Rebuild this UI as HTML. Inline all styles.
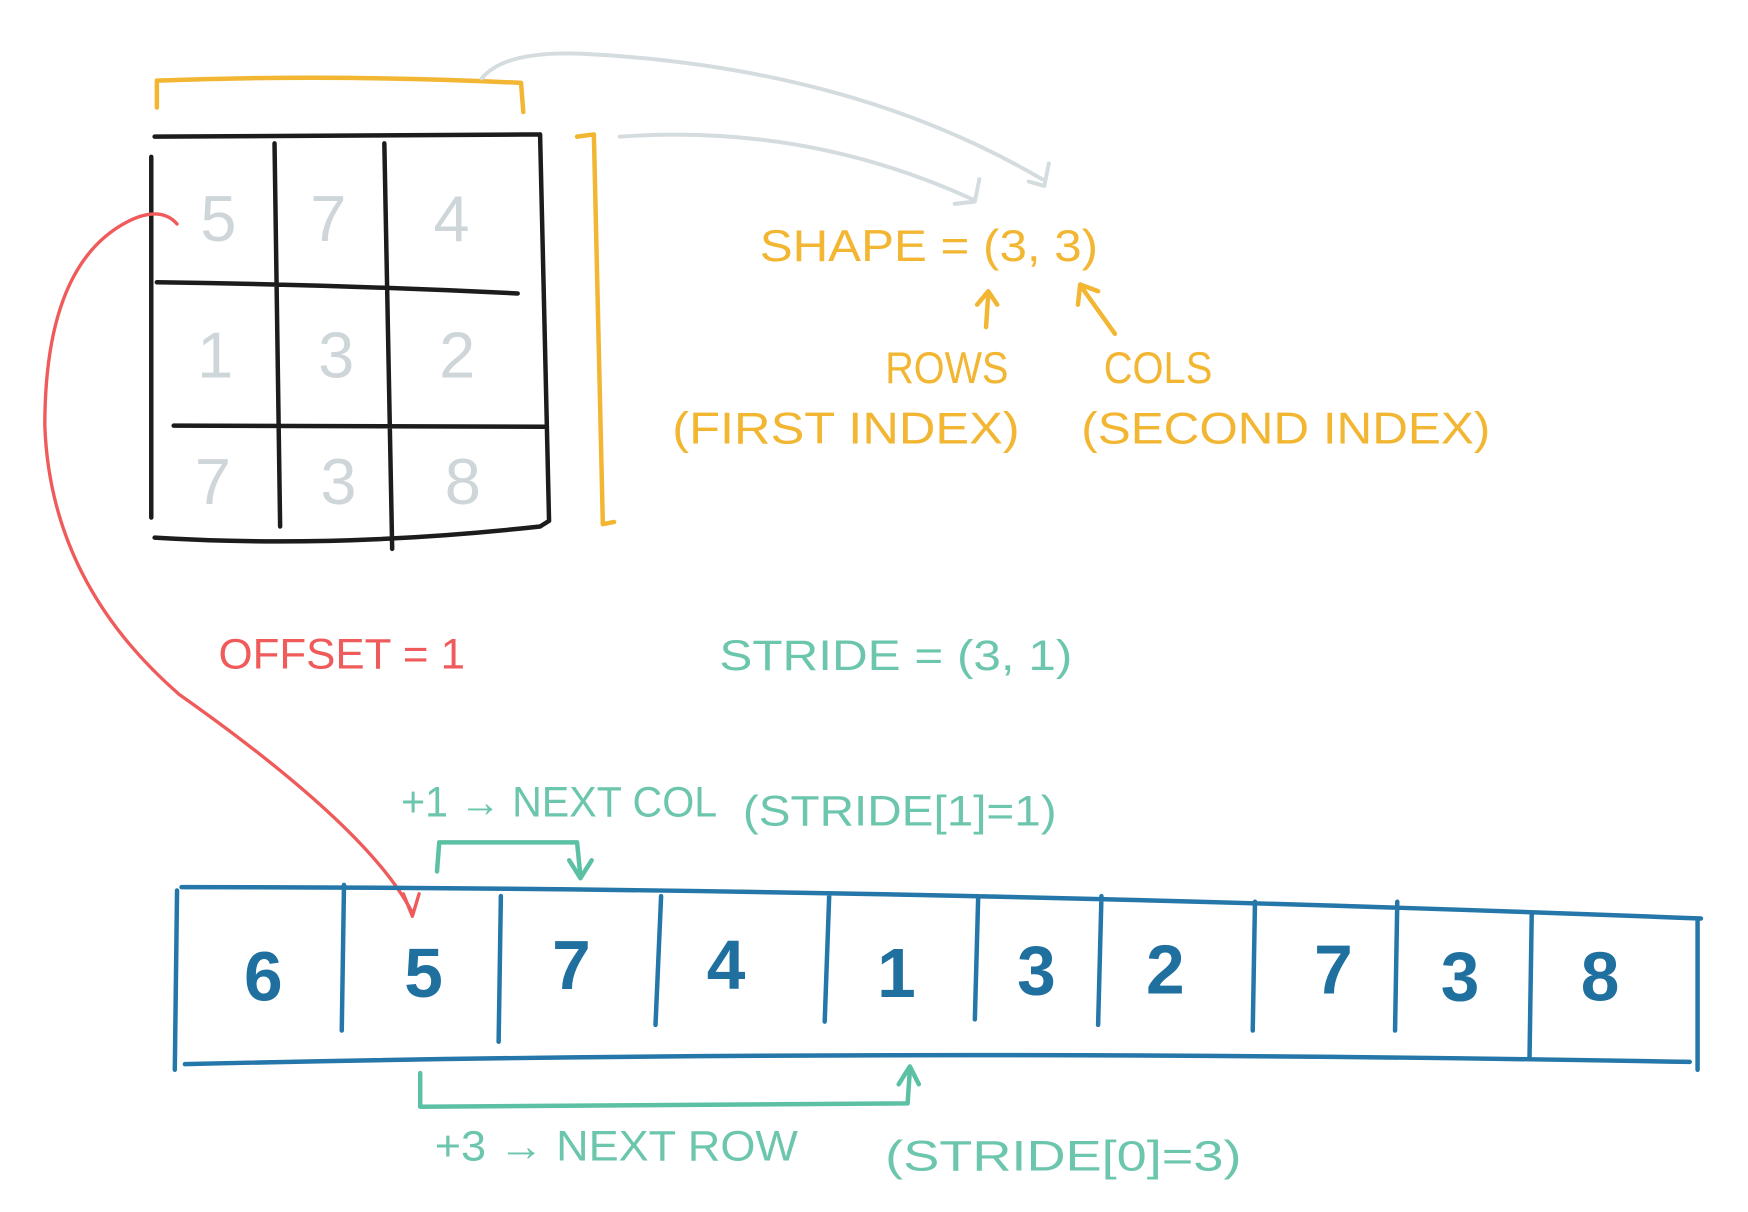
<!DOCTYPE html>
<html><head><meta charset="utf-8"><style>
html,body{margin:0;padding:0;background:#fff;}
svg{display:block}
text{font-family:"Liberation Sans",sans-serif;}
</style></head><body>
<svg width="1748" height="1212" viewBox="0 0 1560 1082" preserveAspectRatio="none" xmlns="http://www.w3.org/2000/svg">
<g fill="none" stroke-linecap="round" stroke-linejoin="round">
<!-- orange top bracket -->
<path d="M140 96 L140 72 Q300 66 465 74 L467 100" stroke="#f2b632" stroke-width="4"/>
<!-- grey arrows -->
<path d="M430 70 Q450 45 520 48 Q760 60 930 160" stroke="#d5dcdf" stroke-width="3.5"/>
<path d="M918 162 L932 166 L936 146" stroke="#d5dcdf" stroke-width="3.5"/>
<path d="M553 122 Q720 110 868 178" stroke="#d5dcdf" stroke-width="3.5"/>
<path d="M852 182 L870 180 L874 160" stroke="#d5dcdf" stroke-width="3.5"/>
<!-- matrix -->
<path d="M138 122 L482 120 M135 140 L135 462 M482 120 L490 465 M140 252 Q300 254 462 262 M155 380 L488 381 M245 128 L250 470 M343 128 L350 490 M138 480 Q300 490 482 470 L490 465" stroke="#1c1c1c" stroke-width="4"/>
<!-- orange right bracket -->
<path d="M515 122 L530 120 L538 468 L548 466" stroke="#f2b632" stroke-width="4"/>
<!-- shape arrows -->
<path d="M880 292 L882 262 M872 272 L882 260 L890 272" stroke="#f2b632" stroke-width="4"/>
<path d="M995 298 L965 256 M962 272 L964 254 L980 260" stroke="#f2b632" stroke-width="4"/>
<!-- red curve -->
<path d="M158 200 Q145 185 120 195 Q40 230 40 380 Q45 520 160 620 Q330 740 368 815" stroke="#ef5a5a" stroke-width="3"/>
<path d="M360 798 L368 818 L374 798" stroke="#ef5a5a" stroke-width="3"/>
<!-- teal bracket top -->
<path d="M390 778 L392 752 L515 752 L518 782 M508 768 L518 784 L528 768" stroke="#5cc0a4" stroke-width="4"/>
<!-- blue array -->
<path d="M162 792 Q800 792 1518 820 M165 950 Q800 935 1508 948 M158 795 L156 955 M1515 822 L1515 955 M307 790 L305 920 M447 800 L445 930 M590 800 L585 915 M740 800 L736 912 M873 800 L870 910 M983 800 L980 915 M1120 805 L1118 920 M1247 805 L1245 920 M1367 815 L1365 945" stroke="#2477a8" stroke-width="4"/>
<!-- teal bracket bottom -->
<path d="M375 958 L375 988 L810 985 L812 955 M802 968 L812 952 L820 968" stroke="#5cc0a4" stroke-width="4"/>
</g>
<g fill="#cfd6da" font-size="58" text-anchor="middle">
<text x="195" y="215">5</text><text x="293" y="215">7</text><text x="403" y="215">4</text>
<text x="192" y="337">1</text><text x="300" y="337">3</text><text x="408" y="337">2</text>
<text x="190" y="450">7</text><text x="302" y="450">3</text><text x="413" y="450">8</text>
</g>
<g fill="#f2b632" font-size="40">
<text x="678" y="233" textLength="302" lengthAdjust="spacingAndGlyphs">SHAPE = (3, 3)</text>
<text x="790" y="342" textLength="110" lengthAdjust="spacingAndGlyphs">ROWS</text>
<text x="985" y="342" textLength="97" lengthAdjust="spacingAndGlyphs">COLS</text>
<text x="600" y="396" textLength="310" lengthAdjust="spacingAndGlyphs">(FIRST INDEX)</text>
<text x="965" y="396" textLength="365" lengthAdjust="spacingAndGlyphs">(SECOND INDEX)</text>
</g>
<text x="195" y="597" fill="#ef5a5a" font-size="38" textLength="220" lengthAdjust="spacingAndGlyphs">OFFSET = 1</text>
<g fill="#6cc6ad" font-size="38">
<text x="642" y="598" textLength="315" lengthAdjust="spacingAndGlyphs">STRIDE = (3, 1)</text>
<text x="358" y="729" textLength="282" lengthAdjust="spacingAndGlyphs">+1 → NEXT COL</text>
<text x="663" y="737" textLength="280" lengthAdjust="spacingAndGlyphs">(STRIDE[1]=1)</text>
<text x="388" y="1036" textLength="324" lengthAdjust="spacingAndGlyphs">+3 → NEXT ROW</text>
<text x="790" y="1045" textLength="318" lengthAdjust="spacingAndGlyphs">(STRIDE[0]=3)</text>
</g>
<g fill="#1f6f9f" font-size="62" font-weight="bold" text-anchor="middle">
<text x="235" y="893">6</text><text x="378" y="890">5</text><text x="510" y="883">7</text><text x="648" y="883">4</text><text x="800" y="890">1</text><text x="925" y="888">3</text><text x="1040" y="887">2</text><text x="1190" y="887">7</text><text x="1303" y="893">3</text><text x="1428" y="893">8</text>
</g>
</svg>
</body></html>
